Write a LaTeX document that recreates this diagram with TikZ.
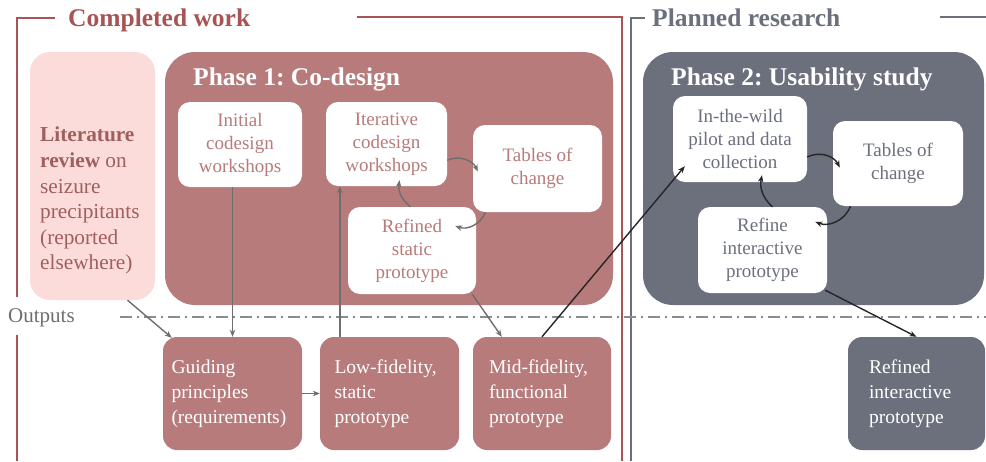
\documentclass[tikz,border=0pt]{standalone}
\usepackage{fontspec}
\setmainfont{Liberation Serif}
\usepackage{tikz}
\usetikzlibrary{calc,positioning,arrows.meta}
\frenchspacing

\definecolor{codesign}{HTML}{B77B7B}
\definecolor{usability}{HTML}{6C707D}
\definecolor{litpink}{HTML}{FBDCDA}
\definecolor{littext}{HTML}{A05F5F}
\definecolor{framered}{HTML}{A85454}
\definecolor{arrowgrey}{HTML}{6E6E6E}

\tikzset{
  phasebox/.style={fill=#1, rounded corners=30pt, inner sep=0pt},
  stepbox/.style={fill=white, rounded corners=12pt, align=center, text=#1, inner sep=0pt,
    font=\fontsize{19}{23}\selectfont},
  outbox/.style={fill=#1, rounded corners=14pt, text=white, align=left, inner sep=0pt,
    minimum height=113pt, font=\fontsize{19.5}{25}\selectfont},
  flow/.style={-{Stealth[length=7pt,width=5.5pt]}, line width=1.4pt, draw=arrowgrey},
  cross/.style={flow, draw=black!85},
  phasetitle/.style={anchor=base west, inner sep=0pt, text=white,
    font=\fontsize{25.5}{28}\selectfont\bfseries},
  frametitle/.style={anchor=base west, inner sep=0pt, text=#1,
    font=\fontsize{25.5}{28}\selectfont\bfseries},
}

\begin{document}
\begin{tikzpicture}[x=1pt,y=-1pt]
\useasboundingbox (0,0) rectangle (986,461);

% frames
\draw[framered, line width=1.5pt] (55,18) -- (17,18) -- (17,297);
\draw[framered, line width=1.5pt] (17,335) -- (17,461);
\draw[framered, line width=1.5pt] (357,17) -- (622,17) -- (622,461);
\node[frametitle=framered] (done) at (68,26) {Completed work};
\draw[usability, line width=1.5pt] (645,18) -- (631,18) -- (631,461);
\draw[usability, line width=1.5pt] (940,17) -- (986,17);
\node[frametitle=usability] (plan) at (652,26) {Planned research};

% literature review
\node[fill=litpink, rounded corners=20pt, minimum width=125pt, minimum height=248pt] (lit) at (92.5,176) {};
\node[anchor=north west, inner sep=0pt, align=left, text=littext, font=\fontsize{21.3}{25.6}\selectfont]
  (littxt) at (40,127) {\textbf{Literature}\\\textbf{review} on\\seizure\\precipitants\\(reported\\elsewhere)};

% phase 1
\node[phasebox=codesign, minimum width=448pt, minimum height=253pt] (p1) at (389,178.5) {};
\node[phasetitle] (p1title) at (193,85) {Phase 1: Co-design};
\node[stepbox=codesign, minimum width=124pt, minimum height=85pt] (init) at (240,144.5) {Initial\\codesign\\workshops};
\node[stepbox=codesign, minimum width=121pt, minimum height=84pt] (iter) at (386.5,144) {Iterative\\codesign\\workshops};
\node[stepbox=codesign, minimum width=129pt, minimum height=87pt] (tab1) at (537.5,168.5) {Tables of\\change};
\node[stepbox=codesign, minimum width=128pt, minimum height=87pt] (ref1) at (412,250.5) {Refined\\static\\prototype};

% phase 2
\node[phasebox=usability, minimum width=341pt, minimum height=253pt] (p2) at (813.5,178.5) {};
\node[phasetitle] (p2title) at (671,85) {Phase 2: Usability study};
\node[stepbox=usability, minimum width=134pt, minimum height=86pt] (wild) at (740,139) {In-the-wild\\pilot and data\\collection};
\node[stepbox=usability, minimum width=130pt, minimum height=85pt] (tab2) at (898,163.5) {Tables of\\change};
\node[stepbox=usability, minimum width=129pt, minimum height=86pt] (ref2) at (762.5,250) {Refine\\interactive\\prototype};

% outputs
\node[anchor=west, inner sep=0pt, text=arrowgrey, font=\fontsize{21}{24}\selectfont] (outlbl) at (8,318) {Outputs};
\coordinate (o1) at (120,317);
\coordinate (o2) at (986,317);
\draw[arrowgrey!80, line width=1.4pt, dash pattern=on 12pt off 5pt on 2pt off 5pt] (o1) -- (o2);

\node[outbox=codesign, minimum width=139pt, text width=122pt] (guide) at (232.5,393.5) {Guiding\\principles\\(requirements)};
\node[outbox=codesign, minimum width=139pt, text width=110pt] (low) at (389.5,393.5) {Low-fidelity,\\static\\prototype};
\node[outbox=codesign, minimum width=138pt, text width=106pt] (mid) at (542,393.5) {Mid-fidelity,\\functional\\prototype};
\node[outbox=usability, minimum width=137pt, text width=95pt] (rip) at (916.5,393.5) {Refined\\interactive\\prototype};

% arrows
\draw[flow] (iter.-15) to[bend left=45] ($(tab1.west)+(5,3)$);
\draw[flow] (tab1.220) to[bend left=45] ($(ref1.north east)+(-21,19)$);
\draw[flow] (ref1.92) to[bend left=30] ($(iter.south)+(13,-6)$);
\draw[cross] (wild.-15) to[bend left=45] ($(tab2.west)+(7,4)$);
\draw[cross] (tab2.222) to[bend left=45] ($(ref2.north east)+(-12,15)$);
\draw[cross] ($(ref2.north)+(10,0)$) to[bend left=30] ($(wild.south)+(22,-7)$);

\coordinate (lowtop) at ($(low.north west)+(20,0)$);
\draw[flow] ($(lit.south)+(35,0)$) -- ($(guide.north west)+(9,1)$);
\draw[flow] (init.south -| guide.north) -- (guide.north);
\draw[flow] (lowtop) -- (lowtop |- iter.south);
\draw[flow] (guide.east) -- (low.west);
\draw[flow] ($(ref1.south east)+(-4,0)$) -- ($(mid.north west)+(29,0)$);
\draw[cross] (mid.north) -- ($(wild.south west)+(12,-16)$);
\draw[cross] ($(ref2.south east)+(-2,-3)$) -- (rip.north);
\end{tikzpicture}
\end{document}
